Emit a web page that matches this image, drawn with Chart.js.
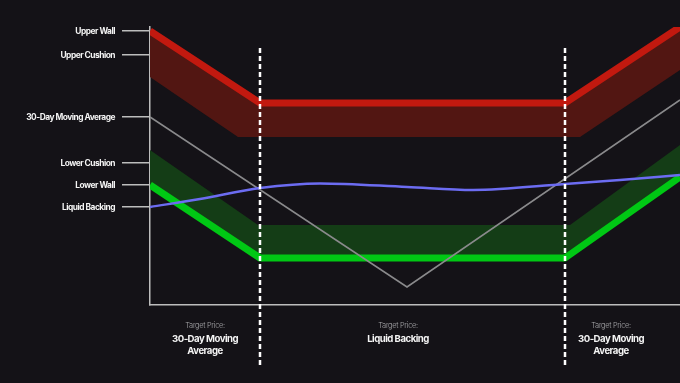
<!DOCTYPE html>
<html>
<head>
<meta charset="utf-8">
<script src="https://cdn.jsdelivr.net/npm/chart.js@4"></script>
<style>
html,body{margin:0;padding:0;background:#141217;}
#wrap{width:680px;height:383px;position:relative;}
</style>
</head>
<body>
<div id="wrap"><canvas id="c" width="680" height="383"></canvas></div>
<script>
// ---- data ----
const wallX = [0, 22, 83, 106];
const upperWallY = [137, 101, 101, 139];
const upperCushionX = [0, 17.6, 86, 106];
const upperCushionY = [114, 84, 84, 117.5];
const lowerWallY = [60, 23.5, 23.5, 64];
const lowerCushionX = [0, 21.6, 84, 106];
const lowerCushionY = [77.5, 40, 40, 80];
const movingAvgX = [0, 51.4, 106];
const movingAvgY = [94, 9, 102.5];
const backingX = [0, 10, 22, 34, 51.4, 64.6, 83, 94, 106];
const backingY = [49, 53, 58.5, 60.8, 59, 57.5, 60.5, 62.5, 65];
const dividerX = [22, 83];
const dividerY = [128.5, -31];
const yTickValues = [137, 125, 94, 71, 60, 49];
const yTickLabels = ['Upper Wall', 'Upper Cushion', '30-Day Moving Average', 'Lower Cushion', 'Lower Wall', 'Liquid Backing'];
const bottomCaption = 'Target Price:';
const bottomLabelX = [11, 49.6, 92.2];
const bottomLabels = [['30-Day Moving', 'Average'], ['Liquid Backing'], ['30-Day Moving', 'Average']];

const pts = (xs, ys) => xs.map((x, i) => ({x: x, y: ys[i]}));

const bottomLabelPlugin = {
  id: 'bottomLabels',
  afterDraw(chart) {
    const ctx = chart.ctx;
    const xs = chart.scales.x;
    ctx.save();
    ctx.textAlign = 'center';
    ctx.textBaseline = 'middle';
    bottomLabelX.forEach((v, i) => {
      const px = xs.getPixelForValue(v);
      ctx.fillStyle = '#a8a8ab';
      ctx.font = '300 7.4px Inter, "Noto Sans", sans-serif';
      ctx.letterSpacing = '-0.3px';
      ctx.fillText(bottomCaption, px, 326);
      ctx.fillStyle = '#f4f4f4';
      ctx.font = 'bold 9.6px Inter, "Noto Sans", sans-serif';
      ctx.letterSpacing = '-0.5px';
      bottomLabels[i].forEach((line, j) => {
        ctx.fillText(line, px, 339 + j * 12);
      });
    });
    ctx.restore();
  }
};

const letterSpacingPlugin = {
  id: 'ls',
  beforeDraw(chart) { chart.ctx.letterSpacing = '-0.5px'; }
};

new Chart(document.getElementById('c'), {
  type: 'line',
  data: {
    datasets: [
      {label: 'Liquid Backing', data: pts(backingX, backingY), borderColor: '#6c6cf2', borderWidth: 2.5, pointRadius: 0, cubicInterpolationMode: 'monotone', fill: false, order: 1},
      {label: '30-Day Moving Average', data: pts(movingAvgX, movingAvgY), borderColor: '#8a8a8c', borderWidth: 1.6, pointRadius: 0, tension: 0, fill: false, order: 2},
      {label: 'div1', data: pts([dividerX[0], dividerX[0]], dividerY), borderColor: '#ffffff', borderWidth: 2.5, borderDash: [5, 3], pointRadius: 0, fill: false, clip: false, order: 0},
      {label: 'div2', data: pts([dividerX[1], dividerX[1]], dividerY), borderColor: '#ffffff', borderWidth: 2.5, borderDash: [5, 3], pointRadius: 0, fill: false, clip: false, order: 0},
      {label: 'Upper Wall', data: pts(wallX, upperWallY), borderColor: '#c2190f', borderWidth: 7, pointRadius: 0, tension: 0, fill: {target: 5}, backgroundColor: '#521612', order: 3, borderJoinStyle: 'round'},
      {label: 'Upper Cushion', data: pts(upperCushionX, upperCushionY), borderWidth: 0, borderColor: 'rgba(0,0,0,0)', pointRadius: 0, tension: 0, fill: false, order: 4},
      {label: 'Lower Wall', data: pts(wallX, lowerWallY), borderColor: '#00c814', borderWidth: 7, pointRadius: 0, tension: 0, fill: {target: 7}, backgroundColor: '#143d16', order: 3, borderJoinStyle: 'round'},
      {label: 'Lower Cushion', data: pts(lowerCushionX, lowerCushionY), borderWidth: 0, borderColor: 'rgba(0,0,0,0)', pointRadius: 0, tension: 0, fill: false, order: 4}
    ]
  },
  options: {
    responsive: false,
    animation: false,
    layout: {padding: {top: 27, right: 0, left: 0, bottom: 0}},
    plugins: {legend: {display: false}, tooltip: {enabled: false}},
    scales: {
      x: {
        type: 'linear', min: 0, max: 106,
        grid: {display: false},
        ticks: {display: false},
        border: {display: true, color: '#bdbdbd', width: 1.5},
        afterFit(s) { s.height = 78; }
      },
      y: {
        type: 'linear', min: 0, max: 139,
        afterFit(s) { s.width = 150; },
        afterBuildTicks(s) { s.ticks = yTickValues.map(v => ({value: v})); },
        grid: {drawOnChartArea: false, drawTicks: true, tickLength: 28, color: '#bdbdbd', lineWidth: 1.5},
        border: {display: true, color: '#bdbdbd', width: 1.5},
        ticks: {
          padding: 7,
          color: '#f4f4f4',
          font: {family: 'Inter, "Noto Sans", sans-serif', size: 8.4, weight: 'bold'},
          callback: (v, i) => yTickLabels[i]
        }
      }
    }
  },
  plugins: [letterSpacingPlugin, bottomLabelPlugin]
});
</script>
</body>
</html>
